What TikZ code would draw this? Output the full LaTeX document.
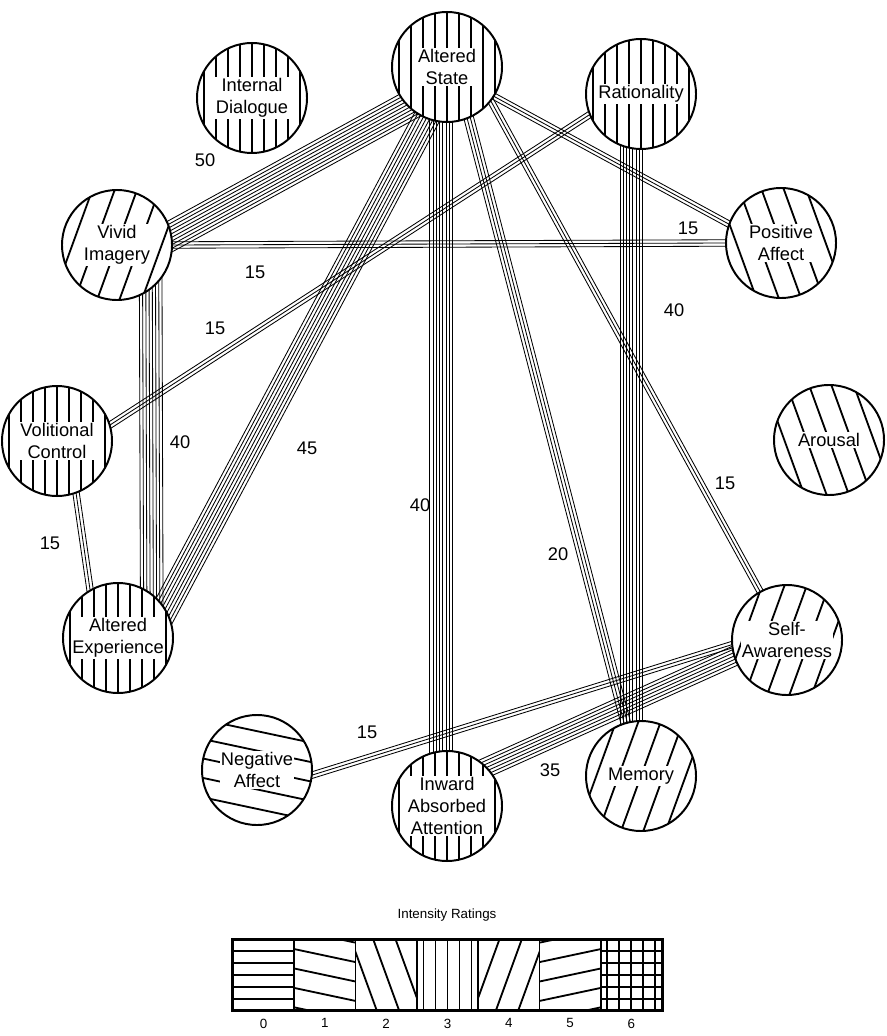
\documentclass[tikz,border=0pt]{standalone}
\usepackage{fontspec}
\setmainfont{Liberation Sans}
\usetikzlibrary{calc,backgrounds}

% parallel hatch lines inside a path picture: offset angle, step
\newcommand{\hatchlines}[2]{%
    \foreach \k in {-8,...,8}
        \draw [line width=1.3pt]
            ($(path picture bounding box.center)+(#1:\k*#2)+(#1+90:90)$) --
            ($(path picture bounding box.center)+(#1:\k*#2)+(#1-90:90)$);}

\begin{document}
\begin{tikzpicture}[
    x=0.025cm, y=-0.025cm,
    every node/.style={align=center, font=\fontsize{13}{15.5}\selectfont},
    rate0/.style={path picture={\hatchlines{90}{12}}},
    rate1/.style={path picture={\hatchlines{-78}{19}}},
    rate2/.style={path picture={\hatchlines{-20}{21}}},
    rate3/.style={path picture={\hatchlines{0}{12}}},
    rate4/.style={path picture={\hatchlines{20}{21}}},
    rate5/.style={path picture={\hatchlines{78}{19}}},
    rate6/.style={path picture={\hatchlines{0}{12}\hatchlines{90}{12}}}
]

% Define styles
\tikzstyle{factor} = [circle, draw, line width=1.4pt, fill=white,
    minimum size=2.75cm, inner sep=0pt]
\tikzstyle{tag} = [fill=white, inner sep=1pt]
\tikzstyle{link} = [line width=0.6pt, shorten <=-14pt, shorten >=-14pt]
\tikzstyle{cell} = [rectangle, draw, line width=1.3pt, fill=white,
    minimum width=61.3*0.025cm, minimum height=70*0.025cm, inner sep=0pt]
\tikzstyle{small} = [font=\fontsize{9.5}{11}\selectfont]

\useasboundingbox (0,0) rectangle (886,1036);

% Nodes
\node [factor, rate3, label={[tag]center:Altered\\State}] (state) at (447,67) {};
\node [factor, rate3, label={[tag]center:Internal\\Dialogue}] (dialogue) at (252,98) {};
\node [factor, rate3, label={[tag]center:Rationality}] (rational) at (641,94) {};
\node [factor, rate4, label={[tag]center:Vivid\\Imagery}] (vivid) at (117,245) {};
\node [factor, rate2, label={[tag]center:Positive\\Affect}] (positive) at (781,243) {};
\node [factor, rate3, label={[tag]center:Volitional\\Control}] (volition) at (57,441) {};
\node [factor, rate2, label={[tag]center:Arousal}] (arousal) at (829,440) {};
\node [factor, rate3, label={[tag]center:Altered\\Experience}] (exper) at (118,638) {};
\node [factor, rate4, label={[tag]center:Self-\\Awareness}] (self) at (787,640) {};
\node [factor, rate1, label={[tag]center:Negative\\Affect}] (negative) at (257,770) {};
\node [factor, rate3, label={[tag]center:Inward\\Absorbed\\Attention}] (inward) at (447,806) {};
\node [factor, rate4, label={[tag]center:Memory}] (memory) at (641,776) {};

% Paths (one thin line per 5 points of the pattern strength)
\begin{scope}[on background layer]
\foreach \a/\b/\n in {
    state.-135/vivid.10/10, vivid.0/positive.180/3, state.-32/positive.160/3,
    rational.-100/memory.100/8, rational.-158/volition.17/3,
    vivid.-53/exper.53/8, state.-112/exper.32/9, volition.-70/exper.120/3,
    state.-96/inward.96/8, state.-67/memory.106/4, state.-38/self.119/3,
    self.185/negative.-5/3, self.197/inward.44/7} {
    \foreach \k in {1,...,\n} {
        \pgfmathsetmacro{\off}{(\k-(\n+1)/2)*2.3}
        \draw [link] ($(\a)!\off pt!90:(\b)$) -- ($(\b)!\off pt!-90:(\a)$);
    }
}
\end{scope}

% Path labels
\node (w50) at (205,160) {50};
\node (w15a) at (255,272) {15};
\node (w15b) at (688,228) {15};
\node (w40a) at (674,310) {40};
\node (w15c) at (215,328) {15};
\node (w40b) at (180,442) {40};
\node (w45) at (307,448) {45};
\node (w15d) at (50,543) {15};
\node (w40c) at (420,505) {40};
\node (w20) at (558,554) {20};
\node (w15e) at (725,483) {15};
\node (w15f) at (367,732) {15};
\node (w35) at (550,770) {35};

% Legend
\node [small] (title) at (447,915) {Intensity Ratings};
\foreach \i in {0,...,6} {
    \node [cell, rate\i] (c\i) at (263.6+61.3*\i, 975) {};
    \node [small, below=2pt] (d\i) at (c\i.south) {\i};
}
\draw [line width=2pt] (c0.north west) rectangle (c6.south east);

\end{tikzpicture}
\end{document}
